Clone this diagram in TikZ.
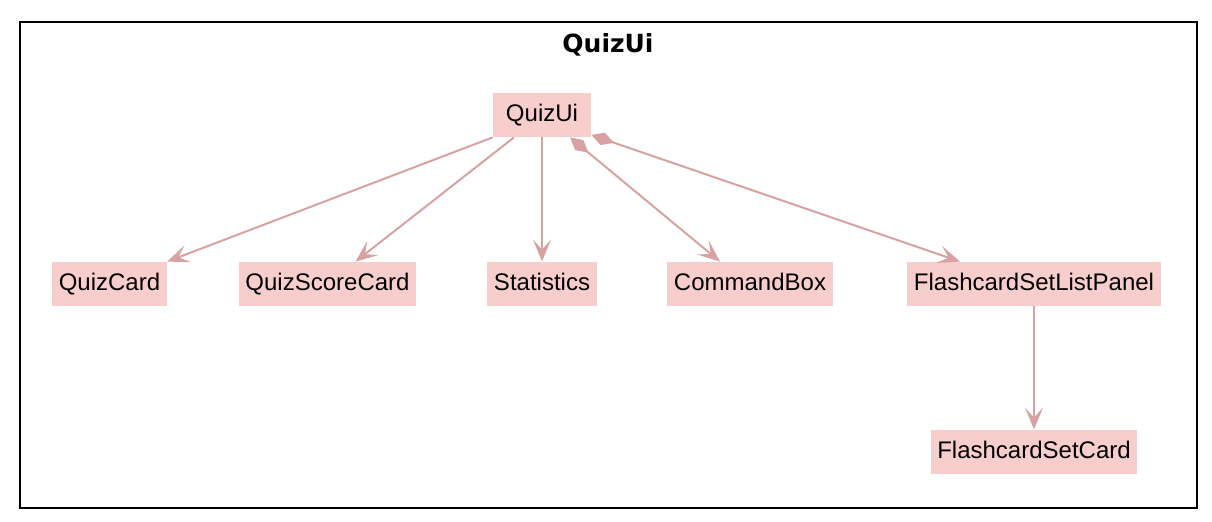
\documentclass[tikz,border=0pt]{standalone}
\usepackage{fontspec}
\setmainfont{Liberation Sans}
\newfontfamily\titlefont{DejaVu Sans}
\usetikzlibrary{arrows.meta}
\definecolor{boxfill}{RGB}{248,206,204}
\definecolor{linkcol}{RGB}{216,162,162}

\begin{document}
\begin{tikzpicture}[x=0.5pt,y=-0.5pt,
    comp/.style={fill=boxfill, draw=none, minimum height=22pt, inner xsep=3.3pt, inner ysep=0pt,
      text height=8.8pt, text depth=2.4pt, font=\fontsize{12}{14}\selectfont},
    link/.style={draw=linkcol, line width=1pt, -{Stealth[length=11pt,width=9pt,inset=5pt]}},
    haslink/.style={link, {Diamond[length=12pt,width=6.5pt]}-{Stealth[length=11pt,width=9pt,inset=5pt]}}]
    \useasboundingbox (0,0) rectangle (1212,522);
    \draw[line width=1.2pt] (20,22) rectangle (1197,508);
    \node[font=\titlefont\bfseries\fontsize{12.5}{14}\selectfont] (title) at (608,45) {QuizUi};

    \node[comp, minimum width=49pt] (quizui) at (542,115) {QuizUi};
    \node[comp] (quizcard) at (109.5,284) {QuizCard};
    \node[comp] (scorecard) at (327.5,284) {QuizScoreCard};
    \node[comp] (stats) at (542,284) {Statistics};
    \node[comp] (cmdbox) at (750,284) {CommandBox};
    \node[comp] (setlist) at (1034,284) {FlashcardSetListPanel};
    \node[comp] (setcard) at (1034,452) {FlashcardSetCard};

    \draw[link] (quizui.south west) -- (quizcard.north east);
    \draw[link] ([xshift=-14pt]quizui.south) -- ([xshift=14pt]scorecard.north);
    \draw[link] (quizui) -- (stats);
    \draw[haslink] ([xshift=14pt]quizui.south) -- ([xshift=-15pt]cmdbox.north);
    \draw[haslink] ([yshift=-10pt]quizui.east) -- ([xshift=-37pt]setlist.north);
    \draw[link] (setlist) -- (setcard);
\end{tikzpicture}
\end{document}
